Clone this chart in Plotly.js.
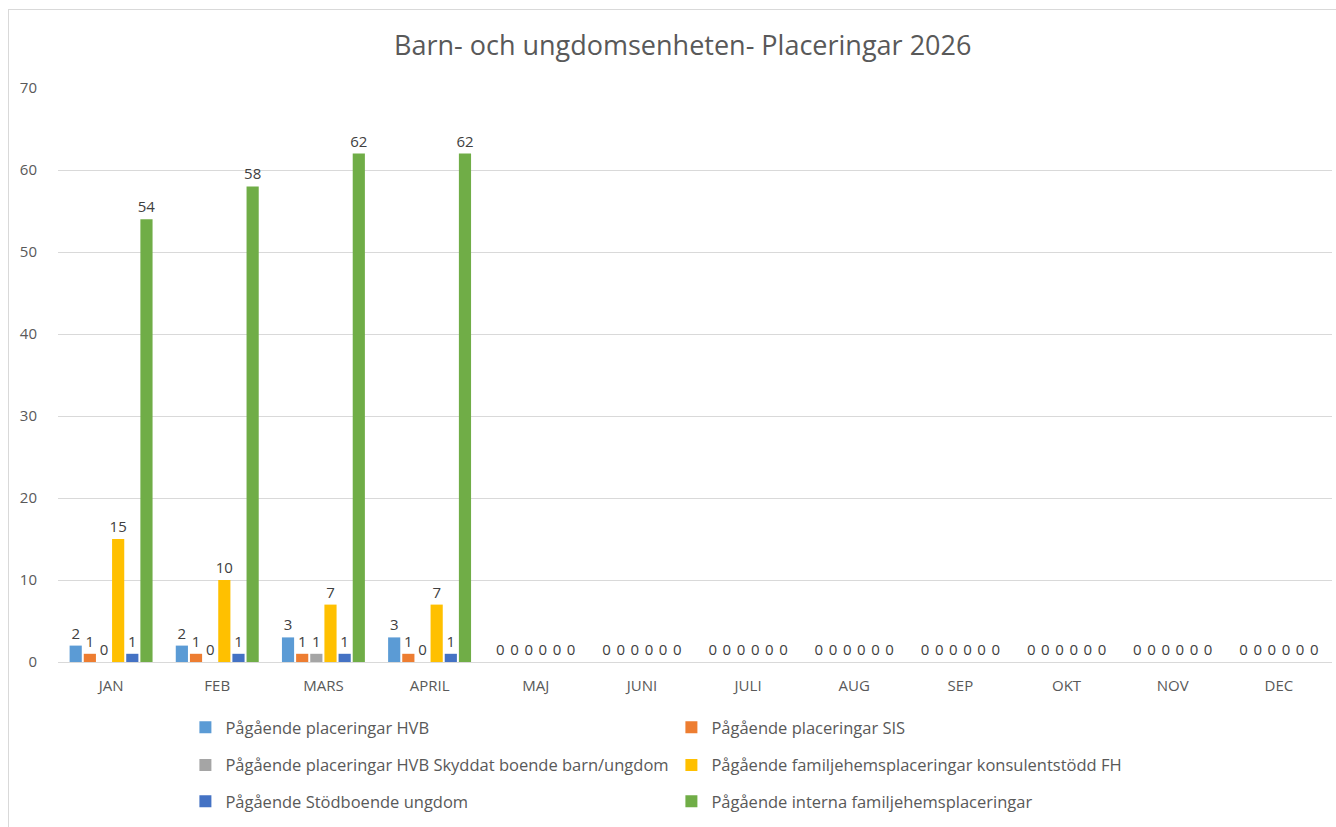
<!DOCTYPE html>
<html>
<head>
<meta charset="utf-8">
<script src="https://cdn.plot.ly/plotly-3.0.1.min.js"></script>
<style>
html,body{margin:0;padding:0;background:#fff;overflow:hidden;}
#chart{position:absolute;left:0;top:0;width:1336px;height:827px;}
#frame{position:absolute;left:8px;top:9px;width:1340px;height:830px;border:1px solid #d9d9d9;pointer-events:none;}
</style>
</head>
<body>
<div id="chart"></div>
<div id="frame"></div>
<script>
const months = ["JAN","FEB","MARS","APRIL","MAJ","JUNI","JULI","AUG","SEP","OKT","NOV","DEC"];
const seriesNames = [
  "Pågående placeringar HVB",
  "Pågående placeringar SIS",
  "Pågående placeringar HVB Skyddat boende barn/ungdom",
  "Pågående familjehemsplaceringar konsulentstödd FH",
  "Pågående Stödboende ungdom",
  "Pågående interna familjehemsplaceringar"
];
const hvb        = [2,2,3,3,0,0,0,0,0,0,0,0];
const sis        = [1,1,1,1,0,0,0,0,0,0,0,0];
const hvbSkyddat = [0,0,1,0,0,0,0,0,0,0,0,0];
const konsulent  = [15,10,7,7,0,0,0,0,0,0,0,0];
const stodboende = [1,1,1,1,0,0,0,0,0,0,0,0];
const interna    = [54,58,62,62,0,0,0,0,0,0,0,0];
const colors = ["#5B9BD5","#ED7D31","#A5A5A5","#FFC000","#4472C4","#70AD47"];
const values = [hvb, sis, hvbSkyddat, konsulent, stodboende, interna];
const legendIds = ["legend","legend","legend2","legend2","legend3","legend3"];

const traces = values.map((v,i)=>({
  type:"bar",
  name:seriesNames[i],
  x:months,
  y:v,
  text:v.map(String),
  textposition:"outside",
  constraintext:"none",
  cliponaxis:false,
  textfont:{family:"Open Sans, sans-serif",size:15,color:"#404040"},
  marker:{color:colors[i]},
  legend:legendIds[i],
  hoverinfo:"skip"
}));

const legendBase = {
  orientation:"h",
  xanchor:"left", yanchor:"middle",
  x:0.1,
  entrywidth:441, entrywidthmode:"pixels",
  font:{family:"Open Sans, sans-serif",size:16.5,color:"#595959"},
  itemwidth:30,
  bgcolor:"rgba(0,0,0,0)"
};

const layout = {
  width:1336, height:827,
  paper_bgcolor:"#fff", plot_bgcolor:"#fff",
  margin:{l:58,r:4,t:88,b:165},
  title:{text:"Barn- och ungdomsenheten- Placeringar 2026",x:0.511,xanchor:"center",y:0.945,yanchor:"middle",
         font:{family:"Open Sans, sans-serif",size:27,color:"#595959"}},
  barmode:"group",
  bargap:0.2,
  bargroupgap:0.14,
  xaxis:{tickfont:{family:"Open Sans, sans-serif",size:15,color:"#595959"},
         showline:true,linecolor:"#d9d9d9",linewidth:1,ticks:"",showgrid:false,fixedrange:true,
         ticklabelstandoff:10},
  yaxis:{range:[0,70],dtick:10,showgrid:true,gridcolor:"#d9d9d9",zeroline:false,showline:false,
         tickfont:{family:"Open Sans, sans-serif",size:15,color:"#595959"},ticks:"",ticklabelstandoff:20,fixedrange:true},
  showlegend:true,
  legend: Object.assign({},legendBase,{y:-0.114}),
  legend2:Object.assign({},legendBase,{y:-0.18}),
  legend3:Object.assign({},legendBase,{y:-0.243}),
  font:{family:"Open Sans, sans-serif"}
};

Plotly.newPlot("chart",traces,layout,{displayModeBar:false,staticPlot:true});
</script>
</body>
</html>
